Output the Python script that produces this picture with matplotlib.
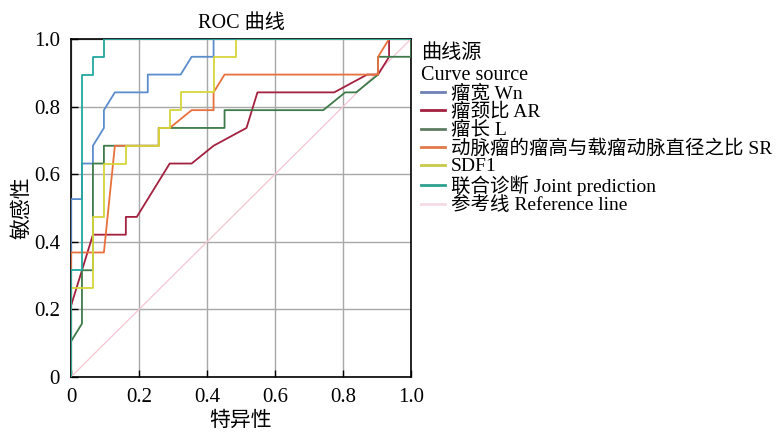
import matplotlib
matplotlib.use("Agg")
import matplotlib.pyplot as plt

plt.rcParams['font.family'] = ['Liberation Serif', 'Noto Sans CJK SC']
plt.rcParams['font.size'] = 14

# x steps are k/31, y steps are k/19
N_NEG = 31
N_POS = 19

labels = ['瘤宽 Wn', '瘤颈比 AR', '瘤长 L', '动脉瘤的瘤高与载瘤动脉直径之比 SR',
          'SDF1', '联合诊断 Joint prediction']
colors = ['#5b8ccc', '#a3203f', '#3f7a4a', '#e8703c', '#d6d63a', '#22a89e']
legend_colors = ['#6f80b4', '#a3203f', '#5f7d64', '#e07a4a', '#c9c94a', '#2fa08e']

# (x index /31, y index /19)
wn_x = [0, 0, 1, 1, 2, 2, 3, 3, 4, 7, 7, 10, 11, 13, 13, 31]
wn_y = [0, 10, 10, 12, 12, 13, 14, 15, 16, 16, 17, 17, 18, 18, 19, 19]

ar_x = [0, 0, 2, 5, 5, 6, 9, 11, 13, 16, 17, 24, 27, 28, 29, 29, 31]
ar_y = [0, 4, 8, 8, 9, 9, 12, 12, 13, 14, 16, 16, 17, 17, 18, 19, 19]

l_x = [0, 0, 1, 1, 2, 2, 3, 3, 8, 8, 14, 14, 23, 25, 26, 28, 28, 31, 31]
l_y = [0, 2, 3, 6, 6, 12, 12, 13, 13, 14, 14, 15, 15, 16, 16, 17, 18, 18, 19]

sr_x = [0, 0, 3, 4, 8, 8, 9, 11, 13, 13, 14, 28, 28, 29, 31]
sr_y = [0, 7, 7, 13, 13, 14, 14, 15, 15, 16, 17, 17, 18, 19, 19]

sdf_x = [0, 0, 2, 2, 3, 3, 5, 5, 8, 8, 9, 9, 10, 10, 13, 13, 15, 15, 31]
sdf_y = [0, 5, 5, 9, 9, 12, 12, 13, 13, 14, 14, 15, 15, 16, 16, 18, 18, 19, 19]

joint_x = [0, 0, 1, 1, 2, 2, 3, 3, 31]
joint_y = [0, 6, 6, 17, 17, 18, 18, 19, 19]

ref_x = [0, 1]
ref_y = [0, 1]

curves = [(wn_x, wn_y), (ar_x, ar_y), (l_x, l_y), (sr_x, sr_y),
          (sdf_x, sdf_y), (joint_x, joint_y)]

fig = plt.figure(figsize=(7.81, 4.32), dpi=100)
ax = fig.add_axes([71 / 781, 55 / 432, 340 / 781, 338 / 432])

ax.grid(True, color='#a8a8a8', linewidth=1.0)
ax.set_axisbelow(True)

ax.plot(ref_x, ref_y, color='#f4c6d2', linewidth=0.9, zorder=2)
for (xs, ys), c in zip(curves, colors):
    ax.plot([v / N_NEG for v in xs], [v / N_POS for v in ys], color=c,
            linewidth=1.3, zorder=3)

ax.set_xlim(0, 1)
ax.set_ylim(0, 1)
ticks = [0, 0.2, 0.4, 0.6, 0.8, 1.0]
ticklabels = ['0', '0.2', '0.4', '0.6', '0.8', '1.0']
ax.set_xticks(ticks)
ax.set_xticklabels(ticklabels)
ax.set_yticks(ticks)
ax.set_yticklabels(ticklabels)
ax.tick_params(direction='in', length=5, width=1, labelsize=15, pad=8)
for s in ax.spines.values():
    s.set_linewidth(1.2)

ax.set_title('ROC 曲线', fontsize=14.5, pad=8)
ax.set_xlabel('特异性', fontsize=15, labelpad=3)
ax.set_ylabel('敏感性', fontsize=15, labelpad=1)

handles = []
for lab, c in zip(labels, legend_colors):
    h, = ax.plot([], [], color=c, linewidth=2, label=lab)
    handles.append(h)
h, = ax.plot([], [], color='#f6dbe6', linewidth=2, label='参考线 Reference line')
handles.append(h)

leg = fig.legend(handles=handles, loc='upper left',
                 bbox_to_anchor=(421 / 781, 1 - 44 / 432),
                 title='曲线源\nCurve source', frameon=False, fontsize=14,
                 title_fontsize=14.5, alignment='left', handlelength=1.25,
                 handletextpad=0.3, labelspacing=0.0, borderpad=0,
                 borderaxespad=0)
leg._legend_box.sep = 0

fig.savefig('out.png', dpi=100)
